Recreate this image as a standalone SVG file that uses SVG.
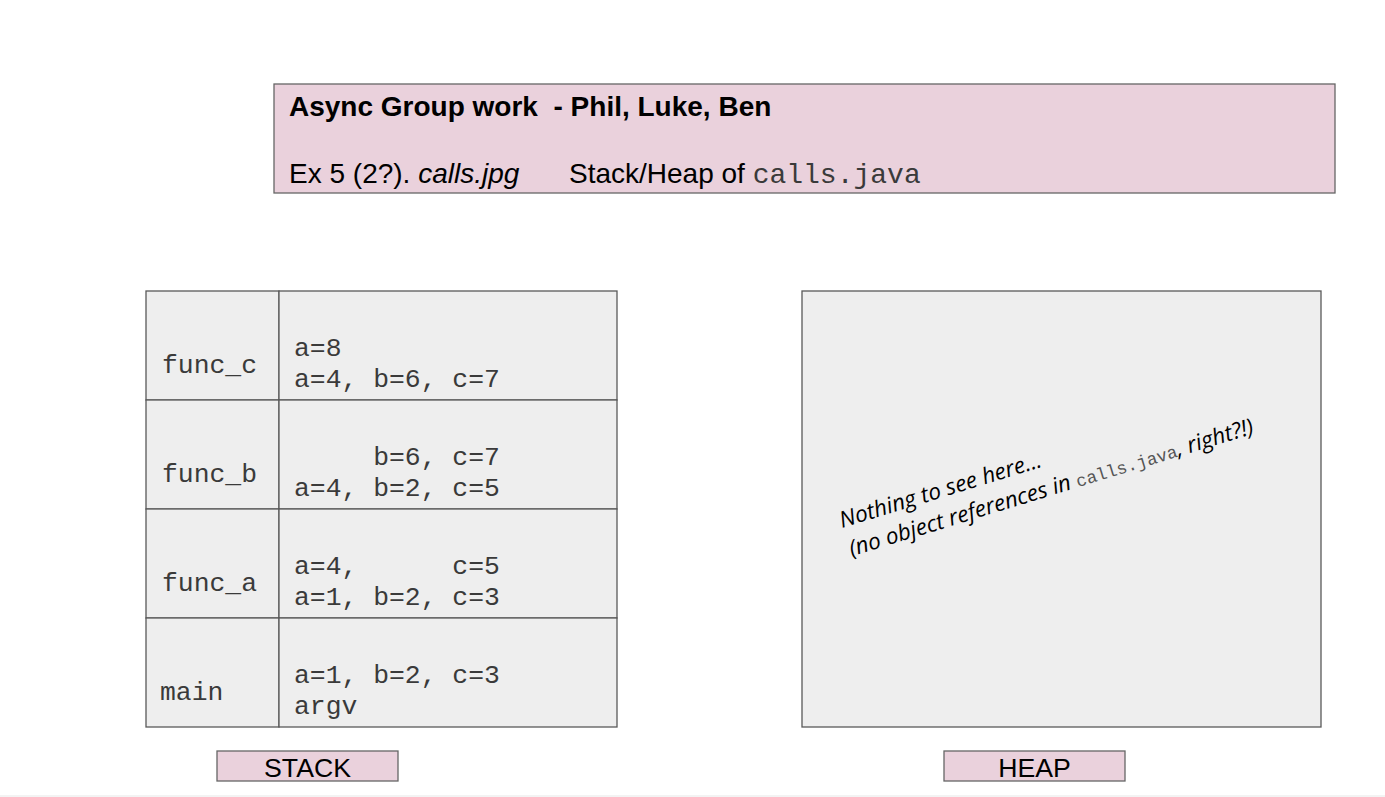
<svg xmlns="http://www.w3.org/2000/svg" width="1385" height="797" viewBox="0 0 1385 797">
  <style>
    .pink { fill: #ead1dc; stroke: #666666; stroke-width: 1.3; }
    .cell { fill: #eeeeee; stroke: #595959; stroke-width: 1.3; }
    .sans { font-family: "Liberation Sans", Arial, sans-serif; fill: #000000; }
    .mono { font-family: "Liberation Mono", "Courier New", monospace; font-size: 26.4px; fill: #3a3a3a; white-space: pre; }
    .hand { font-family: "Open Sans", "DejaVu Sans", sans-serif; font-style: italic; font-size: 22.5px; fill: #000000; }
  </style>
  <rect x="0" y="0" width="1385" height="797" fill="#ffffff"/>
  <rect x="0" y="795" width="1385" height="2" fill="#f3f3f3"/>

  <!-- title banner -->
  <g id="title">
    <rect class="pink" x="274" y="84" width="1061" height="109"/>
    <text class="sans" x="289" y="116" font-size="28" font-weight="bold" style="white-space:pre">Async Group work  - Phil, Luke, Ben</text>
    <text class="sans" x="289" y="183" font-size="28">Ex 5 (2?). <tspan font-style="italic">calls.jpg</tspan></text>
    <text class="sans" x="569" y="183" font-size="28">Stack/Heap of <tspan font-family="'Liberation Mono', 'Courier New', monospace" fill="#3a3a3a">calls.java</tspan></text>
  </g>

  <!-- call stack frames, newest on top -->
  <g id="frame-func_c">
    <rect class="cell" x="146" y="291" width="133" height="109"/>
    <rect class="cell" x="279" y="291" width="338" height="109"/>
    <text class="mono" x="162" y="373">func_c</text>
    <text class="mono" x="294" y="356">a=8</text>
    <text class="mono" x="294" y="387">a=4, b=6, c=7</text>
  </g>
  <g id="frame-func_b">
    <rect class="cell" x="146" y="400" width="133" height="109"/>
    <rect class="cell" x="279" y="400" width="338" height="109"/>
    <text class="mono" x="162" y="482">func_b</text>
    <text class="mono" x="294" y="465">     b=6, c=7</text>
    <text class="mono" x="294" y="496">a=4, b=2, c=5</text>
  </g>
  <g id="frame-func_a">
    <rect class="cell" x="146" y="509" width="133" height="109"/>
    <rect class="cell" x="279" y="509" width="338" height="109"/>
    <text class="mono" x="162" y="591">func_a</text>
    <text class="mono" x="294" y="574">a=4,      c=5</text>
    <text class="mono" x="294" y="605">a=1, b=2, c=3</text>
  </g>
  <g id="frame-main">
    <rect class="cell" x="146" y="618" width="133" height="109"/>
    <rect class="cell" x="279" y="618" width="338" height="109"/>
    <text class="mono" x="160" y="700">main</text>
    <text class="mono" x="294" y="683">a=1, b=2, c=3</text>
    <text class="mono" x="294" y="714">argv</text>
  </g>

  <!-- heap area -->
  <g id="heap">
    <rect class="cell" x="802" y="291" width="519" height="436"/>
    <g transform="translate(842 528) rotate(-17)">
      <text class="hand" x="0" y="0">Nothing to see here...</text>
      <text class="hand" x="1" y="30">(no object references in <tspan font-family="'Liberation Mono', 'Courier New', monospace" font-style="normal" font-size="17.5" fill="#555555">calls.java</tspan>, right?!)</text>
    </g>
  </g>

  <!-- captions -->
  <g id="label-stack">
    <rect class="pink" x="217" y="751" width="181" height="30"/>
    <text class="sans" x="307.5" y="777" font-size="26.67" text-anchor="middle">STACK</text>
  </g>
  <g id="label-heap">
    <rect class="pink" x="944" y="751" width="181" height="30"/>
    <text class="sans" x="1034.5" y="777" font-size="26.67" text-anchor="middle">HEAP</text>
  </g>

  <g id="connectors"/>
</svg>
